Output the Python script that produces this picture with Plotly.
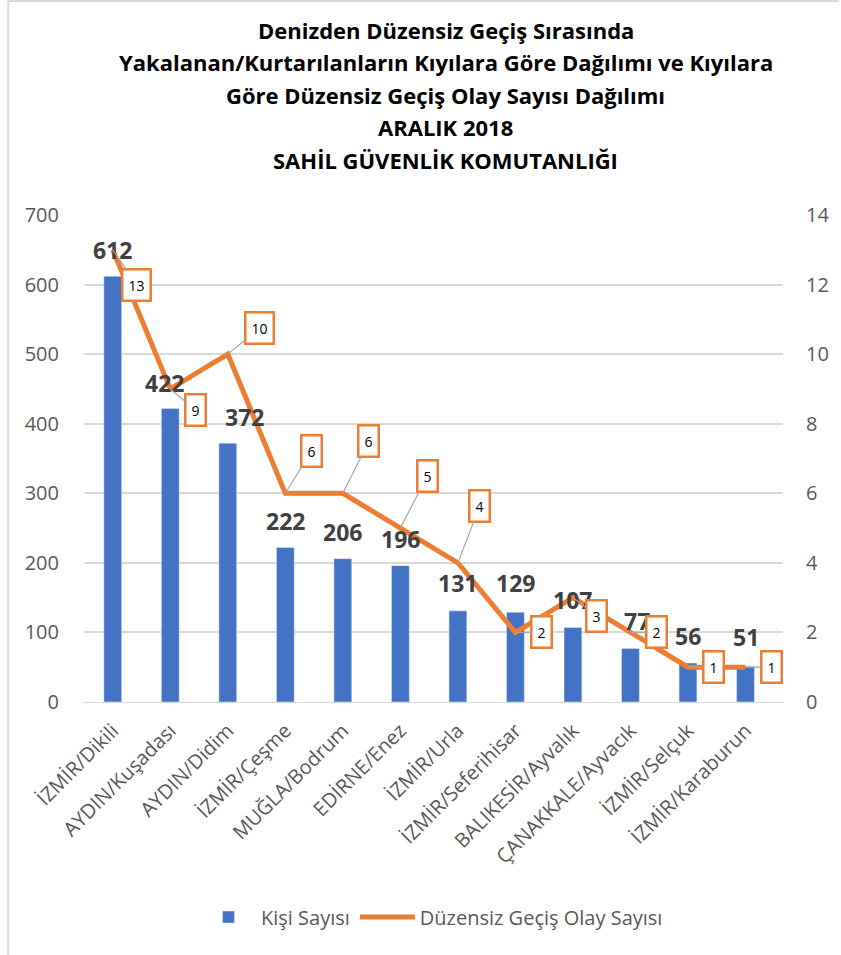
import plotly.graph_objects as go

categories = ["İZMİR/Dikili", "AYDIN/Kuşadası", "AYDIN/Didim", "İZMİR/Çeşme", "MUĞLA/Bodrum",
              "EDİRNE/Enez", "İZMİR/Urla", "İZMİR/Seferihisar", "BALIKESİR/Ayvalık",
              "ÇANAKKALE/Ayvacık", "İZMİR/Selçuk", "İZMİR/Karaburun"]
kisi_sayisi = [612, 422, 372, 222, 206, 196, 131, 129, 107, 77, 56, 51]
olay_sayisi = [13, 9, 10, 6, 6, 5, 4, 2, 3, 2, 1, 1]
left_ticks = [0, 100, 200, 300, 400, 500, 600, 700]
right_ticks = [0, 2, 4, 6, 8, 10, 12, 14]
title_lines = ["Denizden Düzensiz Geçiş Sırasında",
               "Yakalanan/Kurtarılanların Kıyılara Göre Dağılımı ve Kıyılara",
               "Göre Düzensiz Geçiş Olay Sayısı Dağılımı",
               "ARALIK 2018",
               "SAHİL GÜVENLİK KOMUTANLIĞI"]

# label offsets (pixels): style only
bar_label_dx = [0, -6, 17, 0, 0, 0, 0, 0, 0, 7, 0, 0]
bar_label_dy = [26, 25, 26, 27, 27, 27, 28, 29, 28, 27, 27, 30]
line_label_ax = [24, 25, 32, 26, 26, 27, 22, 26, 24, 26, 26, 26]
line_label_ay = [35, 21, -26, -42, -52, -52, -57, 0, 18, 0, 0, 0]

BLUE = "#4472C4"
ORANGE = "#ED7D31"
GRAY = "#595959"
FONT = "Open Sans"

fig = go.Figure()
fig.add_trace(go.Bar(x=categories, y=kisi_sayisi, name="Kişi Sayısı",
                     marker=dict(color=BLUE), width=0.31, yaxis="y"))
fig.add_trace(go.Scatter(x=categories, y=olay_sayisi, name="Düzensiz Geçiş Olay Sayısı",
                         mode="lines", line=dict(color=ORANGE, width=5), yaxis="y2"))

annotations = []
for c, v, dx, dy in zip(categories, kisi_sayisi, bar_label_dx, bar_label_dy):
    annotations.append(dict(x=c, y=v, xref="x", yref="y", text=f"<b>{v}</b>", showarrow=False,
                            xshift=dx, yshift=dy, font=dict(family=FONT, size=23, color="#404040")))
for c, v, ax, ay in zip(categories, olay_sayisi, line_label_ax, line_label_ay):
    annotations.append(dict(x=c, y=v, xref="x", yref="y2", text=str(v), showarrow=True,
                            arrowhead=0, arrowwidth=1.2, arrowcolor="#A6A6A6", standoff=0,
                            ax=ax, ay=ay, axref="pixel", ayref="pixel",
                            bgcolor="white", bordercolor=ORANGE, borderwidth=2.5, borderpad=5,
                            font=dict(family=FONT, size=14, color="black")))

title_y = [30, 62, 95, 127, 160]
for t, py in zip(title_lines, title_y):
    annotations.append(dict(x=(447 - 84) / 701, y=(702 - py) / 487, xref="paper", yref="paper",
                            text=f"<b>{t}</b>", showarrow=False, xanchor="center", yanchor="middle",
                            font=dict(family=FONT, size=22, color="black")))

fig.update_layout(
    width=841, height=955,
    margin=dict(l=84, r=56, t=215, b=253),
    paper_bgcolor="white", plot_bgcolor="white",
    font=dict(family=FONT, color=GRAY),
    annotations=annotations,
    showlegend=True,
    legend=dict(orientation="h", x=(433 - 84) / 701, y=(702 - 917) / 487, xanchor="center",
                yanchor="middle", itemwidth=55, font=dict(family=FONT, size=20, color=GRAY)),
    xaxis=dict(tickangle=-45, tickfont=dict(family=FONT, size=20, color=GRAY), showgrid=False,
               showline=True, linecolor="#D9D9D9", linewidth=1, ticks="outside", ticklen=8,
               tickcolor="white"),
    yaxis=dict(range=[0, 700], tickvals=left_ticks, showgrid=True, gridcolor="#D9D9D9",
               gridwidth=1.5, zeroline=False, ticks="outside", ticklen=20, tickcolor="white",
               tickfont=dict(family=FONT, size=20, color=GRAY)),
    yaxis2=dict(range=[0, 14], tickvals=right_ticks, overlaying="y", side="right",
                showgrid=False, zeroline=False, ticks="outside", ticklen=18, tickcolor="white",
                tickfont=dict(family=FONT, size=20, color=GRAY)),
    shapes=[dict(type="line", xref="paper", yref="paper", x0=(8 - 84) / 701, x1=(8 - 84) / 701,
                 y0=(702 - 955) / 487, y1=(702 - 1) / 487, line=dict(color="#D9D9D9", width=2)),
            dict(type="line", xref="paper", yref="paper", x0=(8 - 84) / 701, x1=(841 - 84) / 701,
                 y0=(702 - 1) / 487, y1=(702 - 1) / 487, line=dict(color="#D9D9D9", width=2))],
)

fig.write_html("out.html", config={"displayModeBar": False},
               post_script="document.body.style.margin='0';document.body.style.padding='0';")
